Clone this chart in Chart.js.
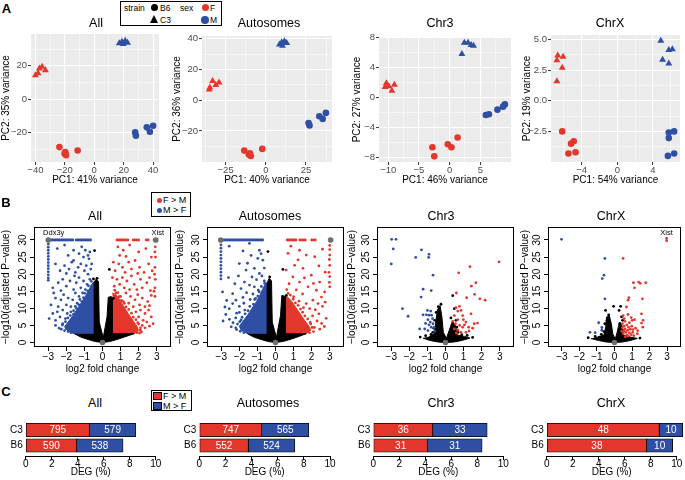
<!DOCTYPE html>
<html>
<head>
<meta charset="utf-8">
<title>Sex-biased expression: PCA, volcano plots and DEG bars</title>
<script src="https://cdn.jsdelivr.net/npm/chart.js@4.4.1/dist/chart.umd.min.js"></script>
<style>
  body { margin: 0; background: #fff; }
  #fig { position: relative; width: 685px; height: 480px; overflow: hidden;
         font-family: "Liberation Sans", Arial, Helvetica, sans-serif; color: #000; }
  #fig canvas { position: absolute; }
  .txt { position: absolute; white-space: nowrap; line-height: 1; transform: translate(-50%, -50%); }
  .title { font-size: 12.5px; }
  .letter { font-size: 13px; font-weight: bold; }
  .legend { position: absolute; border: 1px solid #000; background: #fff; box-sizing: border-box; }
  .dot { position: absolute; border-radius: 50%; }
  .tri { position: absolute; width: 0; height: 0; border-left: 4.5px solid transparent;
         border-right: 4.5px solid transparent; border-bottom: 8px solid #000; }
  .sq { position: absolute; border: 1px solid #000; box-sizing: border-box; }
  .lt { position: absolute; white-space: nowrap; line-height: 1; }
</style>
</head>
<body>
<div id="fig">
  <div class="legend" style="left:120px;top:1px;width:102px;height:25px;"></div>
  <span class="lt" style="left:124px;top:3.5px;font-size:8.5px;">strain</span>
  <span class="dot" style="left:150.7px;top:3.6px;width:7.5px;height:7.5px;background:#000;"></span>
  <span class="lt" style="left:160px;top:3.5px;font-size:8.5px;">B6</span>
  <span class="lt" style="left:180px;top:3.5px;font-size:8.5px;">sex</span>
  <span class="dot" style="left:201.8px;top:3.6px;width:7.5px;height:7.5px;background:#E4372C;"></span>
  <span class="lt" style="left:210px;top:3.5px;font-size:8.5px;">F</span>
  <span class="tri" style="left:150px;top:15px;"></span>
  <span class="lt" style="left:160px;top:15.5px;font-size:8.5px;">C3</span>
  <span class="dot" style="left:201.4px;top:16.2px;width:7.5px;height:7.5px;background:#2E4FA4;"></span>
  <span class="lt" style="left:210px;top:15.5px;font-size:8.5px;">M</span>

  <div class="legend" style="left:151px;top:192px;width:40px;height:25px;"></div>
  <span class="dot" style="left:156.8px;top:197.5px;width:5px;height:5px;background:#E4372C;"></span>
  <span class="lt" style="left:163px;top:195.5px;font-size:9px;">F &gt; M</span>
  <span class="dot" style="left:156.8px;top:208px;width:5px;height:5px;background:#2E4FA4;"></span>
  <span class="lt" style="left:163px;top:206px;font-size:9px;">M &gt; F</span>

  <div class="legend" style="left:151px;top:390px;width:41px;height:21px;"></div>
  <span class="sq" style="left:153.3px;top:391.7px;width:8.4px;height:8.3px;background:#E4372C;"></span>
  <span class="lt" style="left:163px;top:391.8px;font-size:9px;">F &gt; M</span>
  <span class="sq" style="left:153.3px;top:401.7px;width:8.4px;height:8.3px;background:#2E4FA4;"></span>
  <span class="lt" style="left:163px;top:401.8px;font-size:9px;">M &gt; F</span>
</div>
<script>
// ---- panel names ----
const panelNames = ['All', 'Autosomes', 'Chr3', 'ChrX'];

// ---- A: PCA scores [PC1, PC2] ----
const pcaAllF_B6 = [[-23.7, -28.6], [-19.7, -31.6], [-19.2, -33.4], [-20.2, -32.4], [-11.3, -30.6]];
const pcaAllF_C3 = [[-40, 14.4], [-37.3, 18.4], [-35.5, 19.4], [-33.2, 17.4], [-38.2, 15.6]];
const pcaAllM_B6 = [[27.8, -19.8], [28.3, -21.8], [35.7, -16.8], [37.8, -19.4], [40, -15.8]];
const pcaAllM_C3 = [[17, 33.4], [18.8, 34.4], [21, 35], [19.7, 33], [22.6, 33.8]];

const pcaAutoF_B6 = [[-13.4, -32.8], [-9.9, -34.5], [-9.3, -36.3], [-10.6, -35.4], [-2.2, -31.7]];
const pcaAutoF_C3 = [[-34.8, 8.3], [-33.1, 12.5], [-31.1, 9.8], [-29.1, 11.4], [-35.2, 7.0]];
const pcaAutoM_B6 = [[26.6, -14.9], [27.2, -16.4], [33.3, -10.5], [35.4, -12.2], [37.4, -8.3]];
const pcaAutoM_C3 = [[8.5, 36.1], [9.9, 37.6], [11.6, 38.3], [13, 37.2], [10.4, 35.4]];

const pcaChr3F_B6 = [[-2.8, -6.6], [-2.5, -7.8], [-0.3, -6.2], [0.3, -6.6], [1.3, -5.3]];
const pcaChr3F_C3 = [[-10.3, 1.9], [-10.5, 1.4], [-9.4, 0.9], [-9.0, 1.7], [-9.9, 1.5]];
const pcaChr3M_B6 = [[5.9, -2.3], [6.4, -2.2], [7.8, -1.6], [8.7, -1.2], [9.0, -0.9]];
const pcaChr3M_C3 = [[2.0, 5.8], [2.4, 7.3], [3.0, 7.3], [3.5, 7.0], [3.9, 6.9]];

const pcaChrXF_B6 = [[-6.2, -2.5], [-5.2, -3.5], [-4.9, -3.3], [-5.5, -4.3], [-4.7, -4.2]];
const pcaChrXF_C3 = [[-6.7, 3.7], [-6.1, 3.6], [-6.8, 3.3], [-6.2, 2.7], [-6.8, 1.6]];
const pcaChrXM_B6 = [[5.8, -2.6], [6.4, -2.5], [5.8, -3.05], [5.7, -4.5], [6.4, -4.3]];
const pcaChrXM_C3 = [[4.9, 4.9], [5.1, 3.35], [5.8, 4.15], [6.2, 4.2], [5.8, 3.05]];

const pc1Var = [41, 40, 46, 54];
const pc2Var = [35, 36, 27, 19];

// PCA axis ticks (major labelled, minor unlabelled)
const pcaAllX = [-40, -20, 0, 20, 40], pcaAllXm = [-30, -10, 10, 30];
const pcaAllY = [-20, 0, 20], pcaAllYm = [-30, -10, 10, 30];
const pcaAutoX = [-25, 0, 25], pcaAutoXm = [-37.5, -12.5, 12.5, 37.5];
const pcaAutoY = [-20, 0, 20, 40], pcaAutoYm = [-30, -10, 10, 30];
const pcaChr3X = [-10, -5, 0, 5], pcaChr3Xm = [-7.5, -2.5, 2.5, 7.5];
const pcaChr3Y = [-8, -4, 0, 4, 8], pcaChr3Ym = [-6, -2, 2, 6];
const pcaChrXX = [-4, 0, 4], pcaChrXXm = [-6, -2, 2, 6];
const pcaChrXY = [-2.5, 0, 2.5, 5], pcaChrXYm = [-3.75, -1.25, 1.25, 3.75];

// ---- B: volcano plots [log2FC, -log10 padj] ----
const volXTicks = [-3, -2, -1, 0, 1, 2, 3];
const volYTicks = [0, 5, 10, 15, 20, 25, 30];
const volCap = 30;

// All
const allBlackZone = [[-1.55, 2.6], [-1.2, 1.6], [-0.8, 0.9], [-0.4, 0.3], [0, 0], [0.4, 0.3], [0.8, 0.9], [1.2, 1.6], [1.75, 2.6],
  [0.55, 2.6], [0.55, 13], [0.32, 13.3], [0.25, 7.5], [0.04, 1.4], [-0.18, 6], [-0.22, 17.8], [-0.34, 18.6], [-0.45, 17.8], [-0.45, 2.6]];
const allBlueZone = [[-0.45, 2.6], [-1.6, 2.6], [-1.95, 3.5], [-2.1, 4.6], [-1.9, 6.0], [-1.65, 7.8], [-1.4, 9.8], [-1.15, 11.8],
  [-0.92, 13.8], [-0.72, 15.8], [-0.55, 17.4], [-0.45, 17.8]];
const allRedZone = [[0.55, 2.6], [1.75, 2.6], [2.0, 3.5], [1.9, 4.8], [1.68, 6.5], [1.42, 8.5], [1.18, 10.5], [0.95, 12.5], [0.75, 14], [0.55, 14.5]];
const allBlueCap = [-2.92, -2.84, -2.76, -2.68, -2.6, -2.52, -2.44, -2.36, -2.28, -2.2, -2.12, -2.04, -1.96, -1.88, -1.8, -1.72, -1.64,
  -1.45, -1.38, -1.3, -1.22, -1.14, -1.06, -0.98, -0.9, -0.82, -0.74, -0.66];
const allRedCap = [0.8, 0.88, 0.96, 1.04, 1.12, 1.2, 1.3, 1.4, 1.7, 1.8, 1.9, 2.0, 2.42, 2.52, 2.85];
const allBlue = [
  [-3.0, 28.8], [-3.0, 27.9], [-3.0, 27.0], [-3.0, 26.1], [-3.0, 25.2], [-3.0, 24.3], [-3.0, 23.4], [-3.0, 22.5], [-3.0, 21.6], [-3.0, 20.7], [-3.0, 19.8], [-3.0, 18.9], [-3.0, 18.2],
  [-2.5, 27.5], [-2.1, 28.5], [-1.6, 27], [-1.3, 26], [-1.15, 28], [-0.95, 27], [-0.8, 25.5], [-0.7, 26.5], [-0.75, 24.5], [-1.05, 25], [-1.9, 25.5],
  [-2.6, 23], [-2.35, 21], [-2.1, 22.5], [-1.85, 21.5], [-1.7, 23.5], [-1.5, 20.5], [-1.35, 22], [-1.2, 23], [-1.0, 21], [-0.9, 22.5], [-0.8, 20], [-0.65, 21.5], [-0.6, 23], [-2.0, 20.2], [-1.6, 24],
  [-2.75, 16], [-2.45, 17.5], [-2.2, 18.5], [-2.0, 16.5], [-1.8, 18], [-1.6, 15.5], [-1.45, 17.5], [-1.3, 19], [-1.2, 16], [-1.05, 18], [-0.95, 15.5], [-0.85, 17], [-0.7, 18.5], [-0.6, 16.5], [-1.55, 19.5], [-2.3, 15.2],
  [-2.85, 11], [-2.6, 13], [-2.45, 10.5], [-2.3, 12.5], [-2.15, 14], [-2.0, 11], [-1.9, 13], [-1.75, 10.5], [-1.65, 12.5], [-1.5, 14.5], [-1.4, 11.5], [-1.3, 13.5], [-1.15, 12], [-1.1, 14.5], [-2.7, 14.5],
  [-2.95, 7], [-2.75, 8.5], [-2.6, 6.5], [-2.5, 9], [-2.35, 7.5], [-2.2, 5.5], [-2.2, 9.5], [-2.05, 7], [-1.95, 8.5], [-1.8, 6], [-1.75, 9], [-1.6, 8.3], [-1.45, 10],
  [-2.4, 4.2], [-2.1, 3.5], [-1.95, 4.8], [-2.6, 5],
  [-2.28, 3.9], [-2.22, 5.1], [-2.05, 6.1], [-1.92, 7.2], [-1.78, 7.9], [-1.6, 9.3], [-1.5, 10.6], [-1.32, 11.1], [-1.25, 12.6], [-1.05, 13.1],
  [-0.98, 14.4], [-0.82, 15.1], [-0.78, 16.6], [-0.62, 17.9], [-1.75, 2.9], [-1.9, 3.2], [-2.0, 4.1]];
const allRed = [
  [2.92, 28], [2.9, 26.5], [2.93, 25], [2.9, 22], [2.88, 20], [2.92, 18.5], [2.9, 16], [2.85, 15], [2.9, 13.5],
  [0.85, 28], [1.15, 27], [1.5, 28.5], [2.0, 26.5], [2.4, 27.5], [2.7, 25], [1.3, 25.2], [0.95, 25.5],
  [0.7, 21], [0.9, 23], [1.1, 22], [1.25, 20.5], [1.45, 23.5], [1.6, 21.5], [1.8, 24], [2.05, 22], [2.3, 20.5], [2.55, 23], [2.75, 21], [1.95, 20.2], [0.6, 23.5],
  [0.65, 16.5], [0.8, 18.5], [0.95, 17], [1.1, 19], [1.2, 16], [1.35, 18], [1.5, 15.5], [1.6, 19.5], [1.75, 17], [1.9, 15.5], [2.1, 18.5], [2.2, 16], [2.45, 17.5], [2.65, 15.2], [2.6, 19], [0.55, 19],
  [1.0, 13.5], [1.15, 12], [1.3, 14.5], [1.45, 11.5], [1.55, 13.5], [1.7, 10.5], [1.8, 12.5], [1.95, 14], [2.05, 11], [2.2, 13], [2.35, 10.5], [2.5, 12], [2.7, 13.8], [2.6, 10.8], [0.75, 14.5],
  [1.85, 9], [2.0, 7.5], [2.1, 9.5], [2.25, 6.5], [2.35, 8.5], [2.45, 6], [2.55, 9.5], [2.7, 7.5], [2.8, 5.5], [2.2, 5], [1.95, 5.8],
  [2.1, 3.6], [2.35, 4.3], [2.6, 4.8],
  [2.15, 3.1], [2.1, 4.3], [2.0, 5.4], [1.85, 6.7], [1.7, 7.4], [1.6, 8.6], [1.45, 9.7], [1.3, 10.4], [1.2, 11.5], [1.05, 12.3],
  [0.92, 13.4], [0.85, 14.6], [0.68, 15.3], [1.9, 2.9], [2.05, 2.8]];
const allBlack = [[-0.44, 26.9], [0.38, 21.4], [-0.3, 18.8], [0.45, 13.2], [-0.5, 18.6], [0.6, 12.9]];
const allGray = [[-3.0, 30], [2.95, 30], [0, 0]];
const allGenes = [['Ddx3y', -2.7, 32.1], ['Xist', 3.06, 32.2]];

// Autosomes
const autoBlackZone = [[-1.55, 2.6], [-1.2, 1.6], [-0.8, 0.9], [-0.4, 0.3], [0, 0], [0.4, 0.3], [0.8, 0.9], [1.2, 1.6], [1.7, 2.6],
  [0.55, 2.6], [0.55, 13.5], [0.35, 13.8], [0.28, 8], [0.05, 1.5], [-0.18, 6], [-0.22, 18], [-0.35, 18.8], [-0.45, 17.6], [-0.45, 2.6]];
const autoBlueZone = [[-0.45, 2.6], [-1.55, 2.6], [-1.9, 3.6], [-2.0, 4.8], [-1.8, 6.2], [-1.55, 8.0], [-1.3, 10.0], [-1.05, 12.0],
  [-0.85, 14.0], [-0.7, 15.8], [-0.55, 17.2], [-0.45, 17.6]];
const autoRedZone = [[0.55, 2.6], [1.7, 2.6], [1.95, 3.6], [1.85, 4.8], [1.62, 6.4], [1.38, 8.3], [1.13, 10.2], [0.9, 12.0], [0.7, 13.2], [0.55, 13.5]];
const autoBlueCap = [-2.95, -2.87, -2.79, -2.71, -2.63, -2.55, -2.47, -2.39, -2.31, -2.23, -2.15, -2.07, -1.99, -1.91, -1.83, -1.75, -1.67,
  -1.59, -1.51, -1.43, -1.35, -1.27, -1.19, -1.11, -1.03, -0.95, -0.87, -0.79, -0.71];
const autoRedCap = [0.65, 0.73, 0.81, 0.89, 0.97, 1.05, 1.13, 1.35, 1.45, 1.55, 1.65, 2.0, 2.1, 2.2];
const autoBlue = [
  [-3.02, 28.6], [-3.02, 27.6], [-3.02, 26.6], [-3.02, 25.6], [-3.02, 24.6], [-3.02, 23.6], [-3.02, 22.6], [-3.02, 21.6], [-3.02, 20.6], [-3.02, 19.6], [-3.02, 18.6],
  [-2.56, 28.2], [-1.44, 29], [-0.89, 27], [-0.8, 26], [-0.98, 24.6], [-0.7, 24.1], [-2.0, 23.1], [-1.63, 21.2], [-1.17, 21.7], [-0.89, 20.2], [-1.35, 25.5], [-1.8, 26.8],
  [-2.93, 14.8], [-2.37, 14.3], [-1.91, 15.8], [-1.72, 17.7], [-1.44, 16.8], [-1.17, 16.3], [-2.19, 12.4], [-2.56, 9.9], [-2.37, 11.4], [-2.0, 10.6],
  [-2.6, 19], [-2.25, 17.2], [-2.05, 19.5], [-1.3, 19.2], [-1.05, 18.4], [-0.75, 19.5], [-0.62, 21.8], [-0.6, 17.3], [-1.55, 23.2],
  [-1.8, 13.2], [-1.6, 14.6], [-1.4, 12.6], [-1.25, 14.2], [-1.1, 12.9], [-0.95, 15.3], [-1.75, 11.5], [-2.15, 8.6], [-2.75, 8.2], [-2.9, 6.3],
  [-2.55, 6.8], [-2.35, 5.8], [-2.2, 7.2], [-2.0, 8.8], [-1.9, 6.6], [-1.7, 9.5], [-2.45, 4.6], [-2.15, 3.8], [-2.7, 12.3], [-2.8, 10.4],
  [-2.2, 4.3], [-2.1, 5.4], [-1.98, 6.1], [-1.85, 7.4], [-1.68, 8.4], [-1.52, 9.3], [-1.42, 10.6], [-1.22, 11.2], [-1.15, 12.6],
  [-0.98, 13.6], [-0.9, 14.8], [-0.78, 16.4], [-0.62, 18.0], [-1.75, 2.9], [-1.95, 3.3]];
const autoRed = [
  [3.0, 28.4], [3.0, 27.2], [3.0, 25.6], [2.98, 24.3], [3.0, 22.6], [2.96, 20.5], [3.0, 19.3], [2.98, 17.6], [3.0, 16.3],
  [0.69, 26.1], [1.33, 27], [1.7, 25.6], [2.17, 25.1], [0.59, 21.2], [1.06, 22.6], [1.52, 21.7], [1.98, 19.7], [2.44, 17.7], [2.72, 14.8],
  [2.26, 15.3], [1.8, 16.3], [1.33, 17.7], [0.96, 19.2], [2.54, 13.3], [2.35, 11.4], [2.07, 12.4], [1.89, 9.9],
  [0.85, 28.2], [2.6, 27.3], [2.4, 22.4], [2.75, 20.6], [1.25, 24.2], [0.75, 17.2], [1.15, 15.4], [1.5, 14.2], [1.6, 18.9], [2.1, 17.3], [0.62, 15.5],
  [1.0, 13.4], [1.3, 12.1], [1.7, 11.4], [1.55, 10.2], [2.2, 9.6], [2.6, 10.6], [2.05, 7.8], [2.4, 8.4], [2.75, 11.8], [2.3, 6.3], [2.55, 5.6],
  [2.8, 7.1], [2.15, 4.4], [2.45, 3.9], [1.95, 5.4], [2.7, 4.7],
  [2.1, 3.2], [2.02, 4.4], [1.92, 5.9], [1.78, 6.9], [1.62, 7.8], [1.5, 8.9], [1.38, 9.8], [1.25, 10.9], [1.1, 11.6], [0.98, 12.7],
  [0.82, 13.9], [0.7, 14.4], [1.88, 2.9]];
const autoBlack = [[-0.42, 26.6], [0.41, 21.4], [0.37, 9.4], [-0.32, 19.2], [0.6, 13.8]];
const autoGray = [[-3.03, 30], [3.05, 30], [0, 0]];

// Chr3
const chr3BlackZone = [[-1.25, 1.3], [-0.85, 0.6], [-0.4, 0.15], [0, 0], [0.45, 0.15], [0.9, 0.6], [1.35, 1.3], [1.05, 1.8], [0.65, 2.2],
  [0.55, 5.0], [0.38, 6.2], [0.2, 3.5], [0.05, 1.2], [-0.12, 3.0], [-0.2, 7.5], [-0.3, 10.8], [-0.45, 9.5], [-0.55, 5.5], [-0.62, 2.5], [-0.9, 1.8]];
const chr3Blue = [[-2.98, 30.2], [-2.74, 30.2], [-2.89, 27.4], [-3.0, 23.0], [-1.33, 27.1], [-1.65, 24.9], [-0.91, 25.8], [-0.93, 24.9],
  [-0.69, 19.7], [-1.24, 15.6], [-1.35, 13.3], [-0.79, 15.2], [-2.38, 9.9], [-2.07, 7.7], [-1.43, 4.0], [-1.0, 9.4], [-0.82, 9.2],
  [-1.24, 8.1], [-1.06, 8.1], [-0.91, 8.0], [-0.77, 8.0], [-0.97, 6.7], [-0.84, 6.0], [-0.69, 5.5], [-0.91, 5.2], [-0.79, 4.5],
  [-1.15, 4.0], [-0.97, 3.5], [-0.6, 3.3], [-0.72, 7.0], [-1.1, 5.6], [-0.62, 4.4]];
const chr3Red = [[2.96, 23.6], [1.35, 22.2], [0.73, 20.4], [1.68, 17.5], [1.43, 16.5], [1.17, 13.1], [1.61, 14.1], [1.9, 12.8], [2.19, 12.4],
  [0.6, 14.5], [0.77, 10.6], [0.86, 9.4], [0.68, 9.2], [0.95, 7.9], [1.41, 8.4], [0.49, 7.9], [0.58, 10.2], [0.99, 6.7], [0.68, 6.7],
  [0.55, 5.5], [1.13, 6.0], [1.28, 4.5], [1.59, 5.5], [1.77, 5.7], [1.5, 4.2], [0.95, 4.5], [0.68, 3.7], [0.49, 4.0], [0.86, 3.0],
  [1.13, 3.0], [0.4, 6.2], [1.05, 5.2], [0.78, 5.0], [1.3, 3.4], [0.6, 2.8]];
const chr3Black = [[-0.6, 6.5], [-0.65, 4.2], [-0.7, 3.0], [-0.52, 8.8], [-0.25, 11.2], [0.4, 13.7], [0.49, 9.9], [0.58, 6.5], [0.62, 4.5],
  [0.7, 3.0], [-1.4, 1.6], [1.5, 1.5], [-1.1, 2.0], [1.2, 2.1], [0.3, 7.2], [-0.4, 10.5], [-0.8, 2.4], [0.9, 2.3]];
const chr3Gray = [[0, 0]];

// ChrX
const chrXBlackZone = [[-1.35, 1.2], [-0.9, 0.6], [-0.45, 0.15], [0, 0], [0.45, 0.15], [0.9, 0.6], [1.3, 1.2], [0.9, 1.6], [0.5, 2.2],
  [0.42, 5.0], [0.28, 6.0], [0.15, 3.0], [0.04, 1.0], [-0.1, 2.6], [-0.18, 5.5], [-0.3, 8.0], [-0.45, 7.5], [-0.5, 4.5], [-0.6, 2.2], [-0.95, 1.7]];
const chrXBlue = [[-3.02, 30.2], [-0.55, 24.6], [-0.6, 19.7], [-0.7, 18.7], [-0.55, 12.8], [-0.9, 5.8], [-1.4, 3.0], [-1.1, 2.9],
  [-0.72, 3.6], [-0.72, 4.4]];
const chrXRed = [[2.97, 30.5], [2.97, 29.8], [0.49, 24.6], [1.08, 17.5], [1.37, 17.7], [1.47, 17.3], [1.78, 17.5], [1.14, 16.0], [1.59, 12.8],
  [0.77, 12.4], [0.82, 13.1], [0.68, 10.4], [0.49, 7.9], [0.77, 8.2], [1.01, 6.5], [1.63, 6.5], [1.54, 8.4], [0.55, 7.0], [1.14, 6.7],
  [1.54, 5.7], [1.61, 4.5], [1.32, 3.5], [1.04, 3.0], [0.95, 7.3], [0.45, 5.5], [0.55, 4.8], [0.6, 4.0], [0.7, 5.2], [0.75, 3.6],
  [0.8, 4.5], [0.85, 2.8], [0.9, 3.9], [0.65, 3.0], [0.5, 2.6], [0.95, 2.3], [1.05, 3.8], [0.7, 2.2], [0.55, 3.4], [0.6, 6.2],
  [0.85, 5.8], [1.2, 4.2], [1.3, 2.6], [0.42, 3.3], [0.45, 4.3], [1.1, 2.0], [0.78, 1.9], [0.62, 1.7], [0.98, 4.8]];
const chrXBlack = [[-0.51, 9.4], [-0.33, 8.1], [0.35, 10.6], [-0.42, 6.5], [-0.24, 4.7], [0.4, 7.5], [0.46, 6.5], [0.31, 5.5], [-0.05, 10.6],
  [0.26, 9.4], [-0.6, 3.2], [-0.75, 2.4], [-1.5, 1.4], [1.45, 1.3], [-1.1, 1.8], [-0.55, 5.5], [0.5, 3.5]];
const chrXGray = [[0, 0]];
const chrXGenes = [['Xist', 2.97, 32.1]];

// ---- C: DEG percentages and counts, rows C3 then B6 ----
const barCats = ['C3', 'B6'];
const degTicks = [0, 2, 4, 6, 8, 10];
const degAllF = [4.90, 3.92], degAllM = [3.57, 3.57];
const degAutoF = [4.77, 3.75], degAutoM = [3.61, 3.56];
const degChr3F = [4.57, 4.17], degChr3M = [4.19, 4.20];
const degChrXF = [8.66, 7.69], degChrXM = [1.80, 2.00];
const nAllF = [795, 590], nAllM = [579, 538];
const nAutoF = [747, 552], nAutoM = [565, 524];
const nChr3F = [36, 31], nChr3M = [33, 31];
const nChrXF = [48, 38], nChrXM = [10, 10];

// ---------------------------------------------------------------
const RED = '#E4372C', BLUE = '#2E4FA4';
const fig = document.getElementById('fig');

Chart.defaults.font.family = '"Liberation Sans", Arial, Helvetica, sans-serif';
Chart.defaults.color = '#000';
Chart.defaults.animation = false;
Chart.defaults.events = [];
Chart.defaults.plugins.legend.display = false;
Chart.defaults.plugins.tooltip.enabled = false;

const xy = arr => arr.map(p => ({ x: p[0], y: p[1] }));
const capped = xs => xs.map(x => ({ x: x, y: volCap }));
const num = v => (v < 0 ? '\u2212' + String(-v) : String(v));
const num1 = v => (v < 0 ? '\u2212' : '') + Math.abs(v).toFixed(1);
const isOn = (list, v) => list.some(m => Math.abs(m - v) < 1e-6);

function addCanvas(left, top, w, h) {
  const c = document.createElement('canvas');
  c.width = w; c.height = h;
  c.style.left = left + 'px'; c.style.top = top + 'px';
  c.style.width = w + 'px'; c.style.height = h + 'px';
  fig.appendChild(c);
  return c;
}

function addText(text, x, y, cls) {
  const s = document.createElement('span');
  s.className = 'txt ' + cls;
  s.textContent = text;
  s.style.left = x + 'px'; s.style.top = y + 'px';
  fig.appendChild(s);
}

// grey ggplot panel
const panelBg = {
  id: 'panelBg',
  beforeDraw(c) {
    const a = c.chartArea, ctx = c.ctx;
    ctx.save(); ctx.fillStyle = '#EBEBEB';
    ctx.fillRect(a.left, a.top, a.width, a.height);
    ctx.restore();
  }
};

// base-R style box
const frame = {
  id: 'frame',
  afterDatasetsDraw(c) {
    const a = c.chartArea, ctx = c.ctx;
    ctx.save(); ctx.strokeStyle = '#000'; ctx.lineWidth = 1;
    ctx.strokeRect(Math.round(a.left) + 0.5, Math.round(a.top) + 0.5, Math.round(a.width) - 1, Math.round(a.height) - 1);
    ctx.restore();
  }
};

function geneText(items) {
  return {
    id: 'geneText',
    afterDatasetsDraw(c) {
      const ctx = c.ctx;
      ctx.save();
      ctx.font = '7.5px "Liberation Sans", Arial, sans-serif';
      ctx.fillStyle = '#000'; ctx.textAlign = 'center'; ctx.textBaseline = 'middle';
      items.forEach(g => ctx.fillText(g[0], c.scales.x.getPixelForValue(g[1]), c.scales.y.getPixelForValue(g[2])));
      ctx.restore();
    }
  };
}

const countText = {
  id: 'countText',
  afterDatasetsDraw(c) {
    const ctx = c.ctx;
    ctx.save();
    ctx.font = '10px "Liberation Sans", Arial, sans-serif';
    ctx.fillStyle = '#fff'; ctx.textAlign = 'center'; ctx.textBaseline = 'middle';
    c.data.datasets.forEach((ds, di) => {
      c.getDatasetMeta(di).data.forEach((el, i) => {
        const p = el.getCenterPoint();
        ctx.fillText(String(ds.counts[i]), p.x, p.y + 0.5);
      });
    });
    ctx.restore();
  }
};

// ---------- A: PCA ----------
function pcaAxis(pos, range, major, minor, title, fmt, size) {
  return {
    type: 'linear', position: pos, min: range[0], max: range[1],
    afterBuildTicks: s => { s.ticks = major.concat(minor).sort((a, b) => a - b).map(v => ({ value: v })); },
    afterFit: s => { if (pos === 'left') s.width = size; else s.height = size; },
    border: { display: false },
    grid: {
      color: '#FFFFFF',
      lineWidth: c => (c.tick && isOn(major, c.tick.value)) ? 1.1 : 0.5,
      tickColor: c => (c.tick && isOn(major, c.tick.value)) ? '#333333' : 'rgba(0,0,0,0)',
      tickLength: 3, tickWidth: 1
    },
    ticks: {
      autoSkip: false, maxRotation: 0, padding: 1, color: '#4D4D4D',
      font: { size: 9.5, lineHeight: 1 },
      callback: v => isOn(major, v) ? fmt(v) : ''
    },
    title: { display: true, text: title, font: { size: 10 }, padding: { top: 0, bottom: 4 } }
  };
}

function pcaChart(p) {
  const cv = addCanvas(p.left, 20, p.w, 170);
  const set = (d, style, color, r) => ({ data: xy(d), pointStyle: style, backgroundColor: color, borderWidth: 0, pointRadius: r });
  new Chart(cv, {
    type: 'scatter',
    data: { datasets: [set(p.f6, 'circle', RED, 3.3), set(p.m6, 'circle', BLUE, 3.3),
                       set(p.f3, 'triangle', RED, 4), set(p.m3, 'triangle', BLUE, 4)] },
    options: {
      responsive: false,
      layout: { padding: { top: p.top, right: p.right, left: 0, bottom: 0 } },
      scales: {
        x: pcaAxis('bottom', p.xr, p.xMaj, p.xMin, 'PC1: ' + p.pc1 + '% variance', num, 28),
        y: pcaAxis('left', p.yr, p.yMaj, p.yMin, 'PC2: ' + p.pc2 + '% variance', p.fy || num, p.yw)
      }
    },
    plugins: [panelBg]
  });
}

pcaChart({ left: 0, w: 163, yw: 31, top: 14, right: 3, xr: [-43, 44], yr: [-37.5, 39],
  xMaj: pcaAllX, xMin: pcaAllXm, yMaj: pcaAllY, yMin: pcaAllYm, pc1: pc1Var[0], pc2: pc2Var[0],
  f6: pcaAllF_B6, f3: pcaAllF_C3, m6: pcaAllM_B6, m3: pcaAllM_C3 });
pcaChart({ left: 171, w: 165, yw: 31, top: 16, right: 3, xr: [-39.7, 41.2], yr: [-40.2, 41.7],
  xMaj: pcaAutoX, xMin: pcaAutoXm, yMaj: pcaAutoY, yMin: pcaAutoYm, pc1: pc1Var[1], pc2: pc2Var[1],
  f6: pcaAutoF_B6, f3: pcaAutoF_C3, m6: pcaAutoM_B6, m3: pcaAutoM_C3 });
pcaChart({ left: 351, w: 164, yw: 28, top: 17, right: 3, xr: [-11.5, 10], yr: [-8.55, 8.05],
  xMaj: pcaChr3X, xMin: pcaChr3Xm, yMaj: pcaChr3Y, yMin: pcaChr3Ym, pc1: pc1Var[2], pc2: pc2Var[2],
  f6: pcaChr3F_B6, f3: pcaChr3F_C3, m6: pcaChr3M_B6, m3: pcaChr3M_C3 });
pcaChart({ left: 521, w: 163, yw: 30, top: 15, right: 4, xr: [-7.46, 7.06], yr: [-5.0, 5.37],
  xMaj: pcaChrXX, xMin: pcaChrXXm, yMaj: pcaChrXY, yMin: pcaChrXYm, pc1: pc1Var[3], pc2: pc2Var[3], fy: num1,
  f6: pcaChrXF_B6, f3: pcaChrXF_C3, m6: pcaChrXM_B6, m3: pcaChrXM_C3 });

// ---------- B: volcano ----------
function volcanoChart(p) {
  const cv = addCanvas(p.left, 217, p.w, 160);
  const zone = (d, color) => ({ type: 'line', data: xy(d), fill: 'shape', backgroundColor: color,
    borderColor: color, borderWidth: 1, pointRadius: 0, tension: 0, order: 10 });
  const dots = (d, color, r, order) => ({ type: 'scatter', data: d, backgroundColor: color, borderWidth: 0, pointRadius: r, order: order });
  const datasets = [zone(p.blackZone, '#000')];
  if (p.blueZone) datasets.push(zone(p.blueZone, BLUE));
  if (p.redZone) datasets.push(zone(p.redZone, RED));
  datasets.push(dots(xy(p.black), '#000', 1.4, 5));
  datasets.push(dots(xy(p.blue).concat(capped(p.blueCap || [])), BLUE, 1.4, 4));
  datasets.push(dots(xy(p.red).concat(capped(p.redCap || [])), RED, 1.4, 3));
  datasets.push(dots(xy(p.gray), '#6E6E6E', 2.8, 0));
  const tickGrid = { drawOnChartArea: false, tickLength: 4, tickColor: '#000', tickWidth: 1 };
  new Chart(cv, {
    type: 'scatter',
    data: { datasets: datasets },
    options: {
      responsive: false,
      layout: { padding: { top: 10, right: p.right, left: 0, bottom: 0 } },
      scales: {
        x: {
          type: 'linear', min: -3.79, max: 3.79,
          afterBuildTicks: s => { s.ticks = volXTicks.map(v => ({ value: v })); },
          afterFit: s => { s.height = 30; },
          border: { display: false }, grid: tickGrid,
          ticks: { autoSkip: false, maxRotation: 0, padding: 1, font: { size: 10, lineHeight: 1 }, callback: num },
          title: { display: true, text: 'log2 fold change', font: { size: 10 }, padding: { top: 0, bottom: 2 } }
        },
        y: {
          type: 'linear', min: -1.3, max: 33.8,
          afterBuildTicks: s => { s.ticks = volYTicks.map(v => ({ value: v })); },
          afterFit: s => { s.width = p.yw; },
          border: { display: false }, grid: tickGrid,
          ticks: { autoSkip: false, minRotation: 90, maxRotation: 90, crossAlign: 'center', padding: 1, font: { size: 10 }, callback: num },
          title: { display: true, text: '\u2212log10(adjusted P\u2212value)', font: { size: 10 }, padding: 0 }
        }
      }
    },
    plugins: [frame, geneText(p.genes || [])]
  });
}

volcanoChart({ left: 0, w: 175, yw: 34, right: 3, blackZone: allBlackZone, blueZone: allBlueZone, redZone: allRedZone,
  blue: allBlue, red: allRed, black: allBlack, gray: allGray, blueCap: allBlueCap, redCap: allRedCap, genes: allGenes });
volcanoChart({ left: 174, w: 174, yw: 33, right: 3, blackZone: autoBlackZone, blueZone: autoBlueZone, redZone: autoRedZone,
  blue: autoBlue, red: autoRed, black: autoBlack, gray: autoGray, blueCap: autoBlueCap, redCap: autoRedCap });
volcanoChart({ left: 346, w: 172, yw: 31, right: 3, blackZone: chr3BlackZone,
  blue: chr3Blue, red: chr3Red, black: chr3Black, gray: chr3Gray });
volcanoChart({ left: 519, w: 166, yw: 29, right: 1, blackZone: chrXBlackZone,
  blue: chrXBlue, red: chrXRed, black: chrXBlack, gray: chrXGray, genes: chrXGenes });

// ---------- C: stacked DEG bars ----------
function barChart(p) {
  const cv = addCanvas(p.left, 410, p.w, 70);
  const pos = i => barCats.length - 1 - i;
  const set = (vals, counts, color) => ({
    data: vals.map((v, i) => ({ x: v, y: pos(i) })), counts: counts,
    backgroundColor: color, borderColor: '#000', borderWidth: 0.8, borderSkipped: false,
    barThickness: 13.5, clip: false
  });
  new Chart(cv, {
    type: 'bar',
    data: { datasets: [set(p.f, p.nf, RED), set(p.m, p.nm, BLUE)] },
    options: {
      indexAxis: 'y', responsive: false,
      layout: { padding: { top: 10, right: p.right, left: 0, bottom: 0 } },
      scales: {
        x: {
          type: 'linear', stacked: true, min: 0, max: 10, offset: false,
          afterBuildTicks: s => { s.ticks = degTicks.map(v => ({ value: v })); },
          afterFit: s => { s.height = 23.3; },
          border: { display: true, color: '#000', width: 1 },
          grid: { drawOnChartArea: false, offset: false, tickLength: 3.5, tickColor: '#000', tickWidth: 1 },
          ticks: { autoSkip: false, maxRotation: 0, padding: -1, font: { size: 10, lineHeight: 1 } },
          title: { display: true, text: 'DEG (%)', font: { size: 10 }, padding: { top: 0, bottom: 2 } }
        },
        y: {
          type: 'linear', stacked: true, min: -0.7226, max: 1.645, offset: false,
          afterBuildTicks: s => { s.ticks = barCats.map((c, i) => ({ value: pos(i) })).reverse(); },
          afterFit: s => { s.width = p.yw; },
          border: { display: false }, grid: { display: false, drawTicks: false, offset: false },
          ticks: { autoSkip: false, padding: 3, font: { size: 10 }, callback: v => barCats[barCats.length - 1 - v] }
        }
      }
    },
    plugins: [countText]
  });
}

barChart({ left: 0, w: 165, yw: 25.7, right: 9.3, f: degAllF, m: degAllM, nf: nAllF, nm: nAllM });
barChart({ left: 170, w: 170, yw: 29.3, right: 10, f: degAutoF, m: degAutoM, nf: nAutoF, nm: nAutoM });
barChart({ left: 345, w: 168, yw: 28.3, right: 9.7, f: degChr3F, m: degChr3M, nf: nChr3F, nm: nChr3M });
barChart({ left: 518, w: 167, yw: 28.7, right: 8.3, f: degChrXF, m: degChrXM, nf: nChrXF, nm: nChrXM });

// ---------- titles and panel letters ----------
const titleX = [[96, 269, 440, 610], [95, 270, 441, 611], [95, 268, 441, 611]];
const titleY = [23, 216, 403];
titleY.forEach((ty, r) => panelNames.forEach((n, i) => addText(n, titleX[r][i], ty, 'title')));
addText('A', 6.5, 8, 'letter');
addText('B', 6, 202, 'letter');
addText('C', 6, 391, 'letter');
</script>
</body>
</html>
